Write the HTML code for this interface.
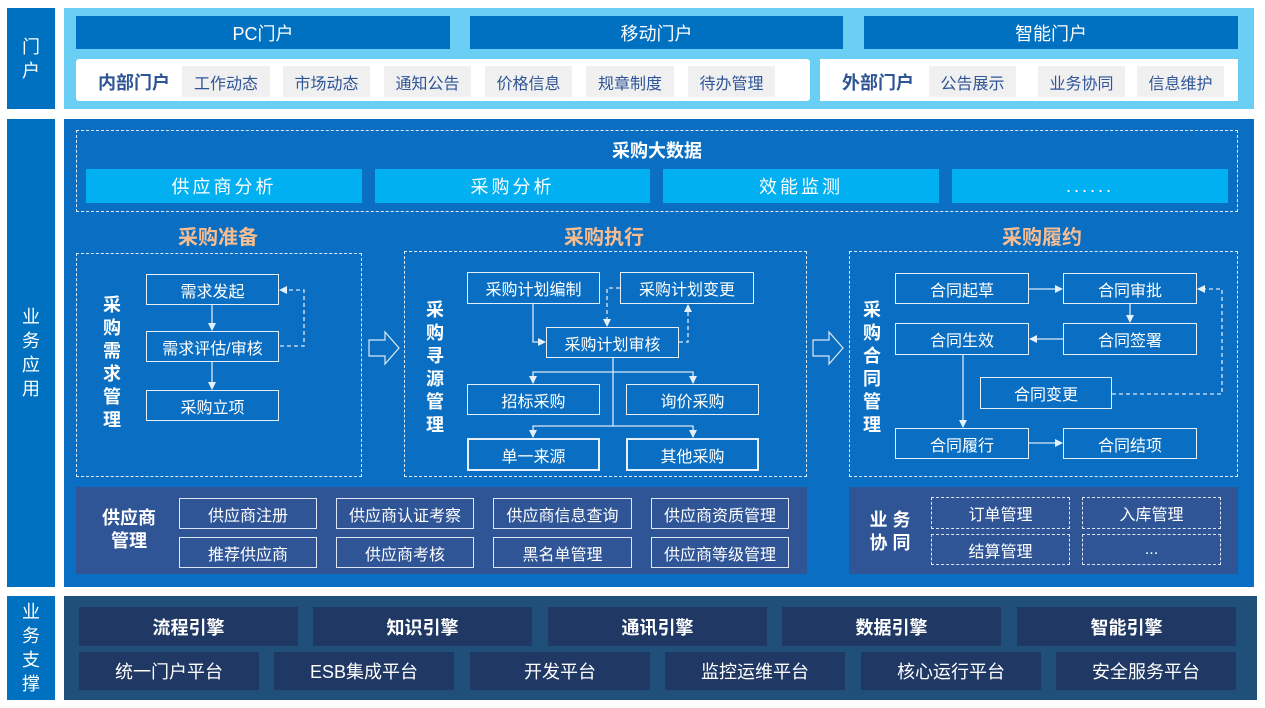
<!DOCTYPE html>
<html><head><meta charset="utf-8"><style>
*{margin:0;padding:0;box-sizing:border-box}
body{width:1265px;height:708px;background:#fff;position:relative;overflow:hidden;font-family:"Liberation Sans","Noto Sans CJK SC",sans-serif}
.a{position:absolute}
.c{display:flex;align-items:center;justify-content:center;text-align:center}
.lab{background:#0070c0;color:#fff;font-size:18px;line-height:24px;flex-direction:column}
.bar{background:#0070c0;color:#fff;font-size:18px}
.chip{background:#f0f0f0;color:#2f5597;font-size:16px;top:66px;height:31px}
.cy{background:#00b0f0;color:#fff;font-size:18px;letter-spacing:3px;top:169px;height:34px}
.dash{border:1px dashed #e0ecf8}
.n{border:1.5px solid #e6f0fa;color:#fff;font-size:16px}
.vt{color:#fff;font-weight:bold;font-size:18px;line-height:23px;width:22px;flex-direction:column}
.hd{color:#f6bc92;font-weight:bold;font-size:20px}
.sc{border:1.5px solid #dde6f2;color:#fff;font-size:16px}
.dc{border:1.5px dashed #dde6f2;color:#fff;font-size:16px}
.en{background:#203864;color:#fff;font-weight:bold;font-size:18px;top:607px;height:39px}
.pf{background:#203864;color:#fff;font-size:18px;top:652px;height:38px}
</style></head><body>
<div class="a c lab" style="left:7px;top:8px;width:48px;height:101px">门<br>户</div>
<div class="a c lab" style="left:7px;top:119px;width:48px;height:468px">业<br>务<br>应<br>用</div>
<div class="a c lab" style="left:7px;top:596px;width:48px;height:104px">业<br>务<br>支<br>撑</div>

<div class="a" style="left:64px;top:8px;width:1190px;height:101px;background:#6bcff5"></div>
<div class="a c bar" style="left:76px;top:16px;width:374px;height:33px">PC门户</div>
<div class="a c bar" style="left:470px;top:16px;width:373px;height:33px">移动门户</div>
<div class="a c bar" style="left:864px;top:16px;width:374px;height:33px">智能门户</div>
<div class="a" style="left:76px;top:59px;width:734px;height:42px;background:#fff;border-radius:3px"></div>
<div class="a" style="left:820px;top:59px;width:418px;height:42px;background:#fff"></div>
<div class="a c" style="left:86px;top:66px;width:96px;height:31px;color:#2f5597;font-weight:bold;font-size:18px">内部门户</div>
<div class="a c chip" style="left:182px;width:88px">工作动态</div>
<div class="a c chip" style="left:283px;width:87px">市场动态</div>
<div class="a c chip" style="left:384px;width:87px">通知公告</div>
<div class="a c chip" style="left:485px;width:87px">价格信息</div>
<div class="a c chip" style="left:586px;width:88px">规章制度</div>
<div class="a c chip" style="left:688px;width:87px">待办管理</div>
<div class="a c" style="left:830px;top:66px;width:96px;height:31px;color:#2f5597;font-weight:bold;font-size:18px">外部门户</div>
<div class="a c chip" style="left:929px;width:87px">公告展示</div>
<div class="a c chip" style="left:1038px;width:87px">业务协同</div>
<div class="a c chip" style="left:1137px;width:87px">信息维护</div>

<div class="a" style="left:64px;top:119px;width:1190px;height:468px;background:#0a6fc2"></div>
<div class="a dash" style="left:76px;top:130px;width:1162px;height:82px"></div>
<div class="a c" style="left:76px;top:138px;width:1162px;height:24px;color:#fff;font-weight:bold;font-size:18px">采购大数据</div>
<div class="a c cy" style="left:86px;width:276px">供应商分析</div>
<div class="a c cy" style="left:375px;width:275px">采购分析</div>
<div class="a c cy" style="left:663px;width:276px">效能监测</div>
<div class="a c cy" style="left:952px;width:276px">......</div>

<div class="a c hd" style="left:118px;top:222px;width:200px;height:26px">采购准备</div>
<div class="a c hd" style="left:504px;top:222px;width:200px;height:26px">采购执行</div>
<div class="a c hd" style="left:942px;top:222px;width:200px;height:26px">采购履约</div>

<div class="a dash" style="left:76px;top:253px;width:286px;height:224px"></div>
<div class="a dash" style="left:404px;top:251px;width:403px;height:226px"></div>
<div class="a dash" style="left:849px;top:251px;width:389px;height:226px"></div>

<div class="a c vt" style="left:101px;top:293px;height:140px">采<br>购<br>需<br>求<br>管<br>理</div>
<div class="a c vt" style="left:424px;top:298px;height:140px">采<br>购<br>寻<br>源<br>管<br>理</div>
<div class="a c vt" style="left:861px;top:298px;height:140px">采<br>购<br>合<br>同<br>管<br>理</div>

<div class="a c n" style="left:146px;top:274px;width:133px;height:31px">需求发起</div>
<div class="a c n" style="left:146px;top:331px;width:133px;height:31px">需求评估/审核</div>
<div class="a c n" style="left:146px;top:390px;width:133px;height:31px">采购立项</div>

<div class="a c n" style="left:467px;top:272px;width:133px;height:32px">采购计划编制</div>
<div class="a c n" style="left:620px;top:272px;width:134px;height:32px">采购计划变更</div>
<div class="a c n" style="left:546px;top:327px;width:133px;height:31px">采购计划审核</div>
<div class="a c n" style="left:467px;top:384px;width:133px;height:31px">招标采购</div>
<div class="a c n" style="left:626px;top:384px;width:133px;height:31px">询价采购</div>
<div class="a c n" style="left:467px;top:438px;width:133px;height:33px;border-width:2.5px">单一来源</div>
<div class="a c n" style="left:626px;top:438px;width:133px;height:33px;border-width:2.5px">其他采购</div>

<div class="a c n" style="left:895px;top:273px;width:134px;height:31px">合同起草</div>
<div class="a c n" style="left:1063px;top:273px;width:134px;height:31px">合同审批</div>
<div class="a c n" style="left:895px;top:323px;width:134px;height:32px">合同生效</div>
<div class="a c n" style="left:1063px;top:323px;width:134px;height:32px">合同签署</div>
<div class="a c n" style="left:980px;top:377px;width:132px;height:32px">合同变更</div>
<div class="a c n" style="left:895px;top:428px;width:134px;height:31px">合同履行</div>
<div class="a c n" style="left:1063px;top:428px;width:134px;height:31px">合同结项</div>

<svg class="a" style="left:0;top:0" width="1265" height="708">
<defs><marker id="ar" markerWidth="8" markerHeight="8" refX="7" refY="4" orient="auto" markerUnits="userSpaceOnUse"><path d="M0,0 L8,4 L0,8z" fill="#e6f0fa"/></marker></defs>
<g stroke="#dbe8f6" stroke-width="1.3" fill="none">
<path d="M212,305 V330" marker-end="url(#ar)"/>
<path d="M212,362 V389" marker-end="url(#ar)"/>
<path d="M280,346 H304 V290 H280" stroke-dasharray="4,3" marker-end="url(#ar)"/>
<path d="M533,304 V342 H545" marker-end="url(#ar)"/>
<path d="M620,288 H607 V326" stroke-dasharray="4,3" marker-end="url(#ar)"/>
<path d="M679,342 H688 V305" stroke-dasharray="4,3" marker-end="url(#ar)"/>
<path d="M613,358 V426"/>
<path d="M533,383 V372 H693 V383" />
<path d="M533,376 V383" marker-end="url(#ar)"/><path d="M693,376 V383" marker-end="url(#ar)"/>
<path d="M533,437 V426 H693 V437"/>
<path d="M533,430 V437" marker-end="url(#ar)"/><path d="M693,430 V437" marker-end="url(#ar)"/>
<path d="M1029,289 H1062" marker-end="url(#ar)"/>
<path d="M1130,304 V322" marker-end="url(#ar)"/>
<path d="M1063,339 H1030" marker-end="url(#ar)"/>
<path d="M963,355 V427" marker-end="url(#ar)"/>
<path d="M1029,443 H1062" marker-end="url(#ar)"/>
<path d="M1112,394 H1222 V289 H1198" stroke-dasharray="4,3" marker-end="url(#ar)"/>
<path d="M369,340 H385 V332 L399,348 L385,364 V356 H369 Z" stroke-width="1.2"/>
<path d="M813,340 H829 V332 L843,348 L829,364 V356 H813 Z" stroke-width="1.2"/>
</g>
</svg>

<div class="a" style="left:76px;top:487px;width:731px;height:87px;background:#2f5597"></div>
<div class="a c" style="left:86px;top:505px;width:86px;height:50px;color:#fff;font-weight:bold;font-size:18px;line-height:23px;flex-direction:column">供应商<br>管理</div>
<div class="a c sc" style="left:179px;top:498px;width:138px;height:31px">供应商注册</div>
<div class="a c sc" style="left:336px;top:498px;width:138px;height:31px">供应商认证考察</div>
<div class="a c sc" style="left:493px;top:498px;width:139px;height:31px">供应商信息查询</div>
<div class="a c sc" style="left:651px;top:498px;width:138px;height:31px">供应商资质管理</div>
<div class="a c sc" style="left:179px;top:537px;width:138px;height:31px">推荐供应商</div>
<div class="a c sc" style="left:336px;top:537px;width:138px;height:31px">供应商考核</div>
<div class="a c sc" style="left:493px;top:537px;width:139px;height:31px">黑名单管理</div>
<div class="a c sc" style="left:651px;top:537px;width:138px;height:31px">供应商等级管理</div>

<div class="a" style="left:849px;top:487px;width:389px;height:87px;background:#2f5597"></div>
<div class="a c" style="left:860px;top:507px;width:60px;height:50px;color:#fff;font-weight:bold;font-size:18px;line-height:23px;flex-direction:column">业 务<br>协 同</div>
<div class="a c dc" style="left:931px;top:497px;width:139px;height:32px">订单管理</div>
<div class="a c dc" style="left:1082px;top:497px;width:139px;height:32px">入库管理</div>
<div class="a c dc" style="left:931px;top:534px;width:139px;height:31px">结算管理</div>
<div class="a c dc" style="left:1082px;top:534px;width:139px;height:31px">...</div>

<div class="a" style="left:64px;top:596px;width:1193px;height:104px;background:#204f7a"></div>
<div class="a c en" style="left:79px;width:219px">流程引擎</div>
<div class="a c en" style="left:313px;width:219px">知识引擎</div>
<div class="a c en" style="left:548px;width:219px">通讯引擎</div>
<div class="a c en" style="left:782px;width:219px">数据引擎</div>
<div class="a c en" style="left:1017px;width:219px">智能引擎</div>
<div class="a c pf" style="left:79px;width:180px">统一门户平台</div>
<div class="a c pf" style="left:274px;width:180px">ESB集成平台</div>
<div class="a c pf" style="left:470px;width:180px">开发平台</div>
<div class="a c pf" style="left:665px;width:180px">监控运维平台</div>
<div class="a c pf" style="left:861px;width:180px">核心运行平台</div>
<div class="a c pf" style="left:1056px;width:180px">安全服务平台</div>
</body></html>
